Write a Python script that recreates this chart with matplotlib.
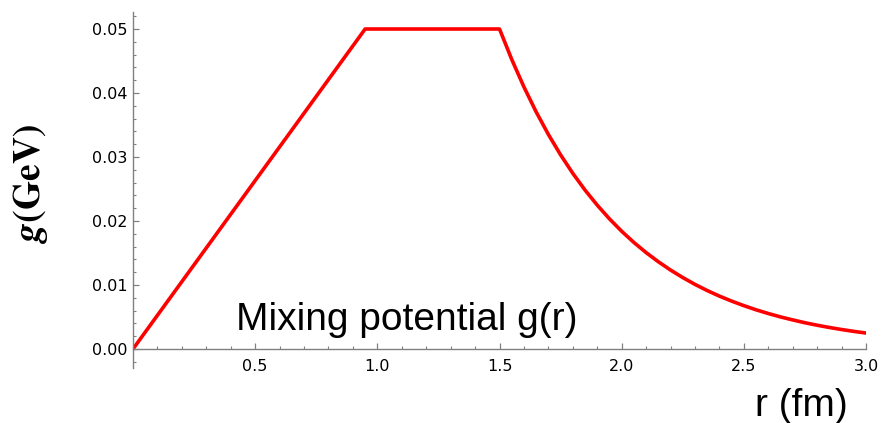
import matplotlib.pyplot as plt
from matplotlib.ticker import MultipleLocator, FormatStrFormatter

# mixing potential g(r): linear rise, plateau, then falling tail
r_vals = [0.0, 0.95, 1.5, 1.55, 1.6, 1.65, 1.7, 1.75, 1.8, 1.85, 1.9,
          1.95, 2.0, 2.05, 2.1, 2.15, 2.2, 2.25, 2.3, 2.35, 2.4, 2.45,
          2.5, 2.55, 2.6, 2.65, 2.7, 2.75, 2.8, 2.85, 2.9, 2.95, 3.0]
g_vals = [0.0, 0.05, 0.05, 0.04524, 0.04094, 0.03704, 0.03352, 0.03033,
          0.02744, 0.02483, 0.02247, 0.02033, 0.01839, 0.01664, 0.01506,
          0.01363, 0.01233, 0.01116, 0.01009, 0.00913, 0.00826, 0.00748,
          0.00677, 0.00612, 0.00554, 0.00501, 0.00454, 0.00410, 0.00371,
          0.00336, 0.00304, 0.00275, 0.00249]
x_ticks = [0.5, 1.0, 1.5, 2.0, 2.5, 3.0]
y_ticks = [0.0, 0.01, 0.02, 0.03, 0.04, 0.05]

plt.rcParams['font.family'] = ['Liberation Sans', 'DejaVu Sans']
plt.rcParams['mathtext.fontset'] = 'stix'

fig = plt.figure(figsize=(8.82, 4.23), dpi=100)
ax = fig.add_axes([0.1508, 0.1296, 0.8311, 0.8427])

ax.plot(r_vals, g_vals, color='#ff0000', lw=2.6, solid_joinstyle='round')

ax.set_xlim(0, 3.0)
ax.set_ylim(-0.003, 0.0527)

for s in ['top', 'right']:
    ax.spines[s].set_visible(False)
ax.spines['left'].set_position(('data', 0))
ax.spines['bottom'].set_position(('data', 0))
for s in ['left', 'bottom']:
    ax.spines[s].set_color('#808080')
    ax.spines[s].set_linewidth(1.0)

ax.set_xticks(x_ticks)
ax.set_yticks(y_ticks)
ax.xaxis.set_minor_locator(MultipleLocator(0.1))
ax.yaxis.set_minor_locator(MultipleLocator(0.002))
ax.xaxis.set_major_formatter(FormatStrFormatter('%.1f'))
ax.yaxis.set_major_formatter(FormatStrFormatter('%.2f'))
ax.tick_params(which='major', direction='in', length=4.5, width=0.9,
               color='#808080', labelcolor='black')
ax.tick_params(which='minor', direction='in', length=2.5, width=0.8,
               color='#808080')
ax.tick_params(axis='x', which='major', pad=7)
ax.tick_params(axis='y', which='major', pad=4)
for lab in ax.get_xticklabels() + ax.get_yticklabels():
    lab.set_family('DejaVu Sans')
    lab.set_fontsize(11.5)

ax.text(0.42, 0.003, 'Mixing potential g(r)', fontsize=28, va='baseline',
        ha='left')

fig.text(0.961, 0.016, 'r (fm)', fontsize=28, ha='right', va='baseline')
fig.text(0.035, 0.565, r'$\mathbfit{g}\mathbf{(GeV)}$', fontsize=27,
         rotation=90, ha='center', va='center')

fig.savefig('out.png', dpi=100)
